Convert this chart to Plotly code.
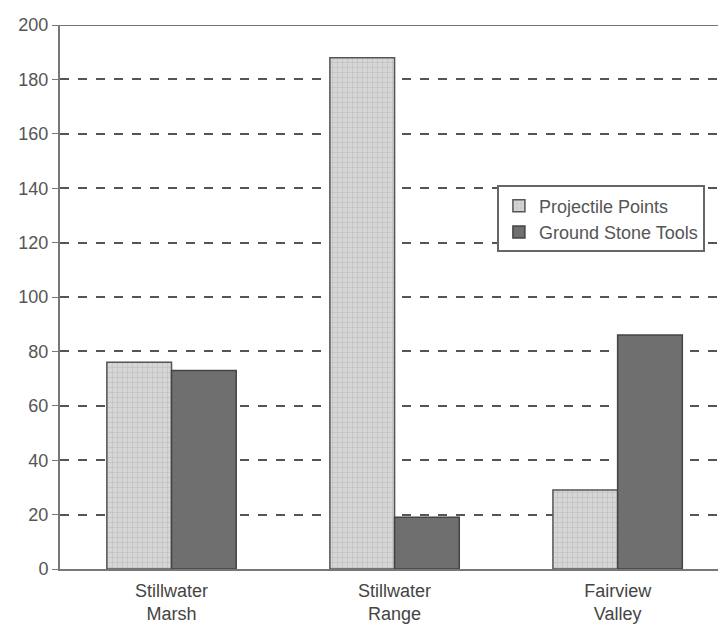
import plotly.graph_objects as go

categories = ["Stillwater<br>Marsh", "Stillwater<br>Range", "Fairview<br>Valley"]
projectile_points = [76, 188, 29]
ground_stone_tools = [73, 19, 86]
y_ticks = [0, 20, 40, 60, 80, 100, 120, 140, 160, 180, 200]

fig = go.Figure()
fig.add_trace(go.Bar(
    x=categories, y=projectile_points, name="Projectile Points",
    marker=dict(color="#cfcfcf", line=dict(color="#555555", width=1.5),
                pattern=dict(shape="+", size=5, solidity=0.25, fgcolor="#a8a8a8", bgcolor="#d6d6d6")),
))
fig.add_trace(go.Bar(
    x=categories, y=ground_stone_tools, name="Ground Stone Tools",
    marker=dict(color="#6f6f6f", line=dict(color="#444444", width=1.5)),
))

fig.update_layout(
    width=718, height=630,
    margin=dict(l=60, r=0, t=25, b=61),
    paper_bgcolor="white", plot_bgcolor="white",
    barmode="group", bargap=0.42, bargroupgap=0,
    font=dict(family="Liberation Sans, Arial, sans-serif", size=18, color="#444444"),
    showlegend=True,
    legend=dict(x=0.664, y=0.705, xanchor="left", yanchor="top",
                bgcolor="white", bordercolor="#666666", borderwidth=2,
                font=dict(size=18, color="#555555"), tracegroupgap=0,
                itemwidth=30),
    xaxis=dict(range=[-0.5, 2.45], showgrid=False, showline=True,
               linecolor="#777777", linewidth=2, ticks="", tickfont=dict(size=18),
               ticklabelstandoff=4),
    yaxis=dict(range=[0, 200], tickvals=y_ticks, showgrid=True,
               gridcolor="#555555", griddash="dash", gridwidth=1.5,
               showline=True, linecolor="#777777", linewidth=2,
               ticks="outside", ticklen=6, tickcolor="#777777",
               tickfont=dict(size=18, color="#555555"), zeroline=False,
               mirror=False),
)

# solid frame line along the top of the plot area
fig.add_shape(type="line", xref="paper", yref="y", x0=0, x1=1, y0=200, y1=200,
              line=dict(color="#777777", width=2))

fig.write_html("out.html")
